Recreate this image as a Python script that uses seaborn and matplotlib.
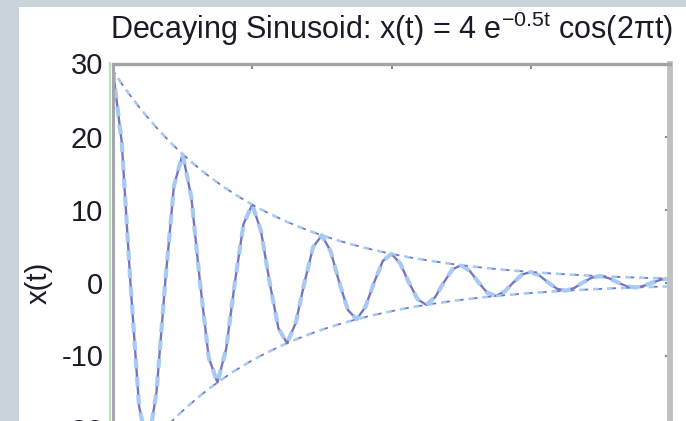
import numpy as np
import pandas as pd
import matplotlib
matplotlib.use("Agg")
import matplotlib.pyplot as plt
from matplotlib.lines import Line2D
from matplotlib.patches import Rectangle
import seaborn as sns

# sample times (s), every 1/8 s from 0 to 8
t = [0.000, 0.125, 0.250, 0.375, 0.500, 0.625, 0.750, 0.875,
     1.000, 1.125, 1.250, 1.375, 1.500, 1.625, 1.750, 1.875,
     2.000, 2.125, 2.250, 2.375, 2.500, 2.625, 2.750, 2.875,
     3.000, 3.125, 3.250, 3.375, 3.500, 3.625, 3.750, 3.875,
     4.000, 4.125, 4.250, 4.375, 4.500, 4.625, 4.750, 4.875,
     5.000, 5.125, 5.250, 5.375, 5.500, 5.625, 5.750, 5.875,
     6.000, 6.125, 6.250, 6.375, 6.500, 6.625, 6.750, 6.875,
     7.000, 7.125, 7.250, 7.375, 7.500, 7.625, 7.750, 7.875,
     8.000]

# signal samples x(t)
x = [29.00, 19.26, 0.00, -17.00, -22.59, -15.00, 0.00, 13.24,
     17.59, 11.68, 0.00, -10.31, -13.70, -9.10, 0.00, 8.03,
     10.67, 7.09, 0.00, -6.25, -8.31, -5.52, 0.00, 4.87,
     6.47, 4.30, 0.00, -3.79, -5.04, -3.35, 0.00, 2.95,
     3.93, 2.61, 0.00, -2.30, -3.06, -2.03, 0.00, 1.79,
     2.38, 1.58, 0.00, -1.40, -1.85, -1.23, 0.00, 1.09,
     1.44, 0.96, 0.00, -0.85, -1.12, -0.75, 0.00, 0.66,
     0.88, 0.58, 0.00, -0.51, -0.68, -0.45, 0.00, 0.40,
     0.53]

# decay envelope (upper); the lower envelope is its mirror image
envelope = [29.00, 27.24, 25.59, 24.04, 22.59, 21.22, 19.93, 18.72,
            17.59, 16.52, 15.52, 14.58, 13.70, 12.87, 12.09, 11.36,
            10.67, 10.02, 9.42, 8.85, 8.31, 7.81, 7.33, 6.89,
            6.47, 6.08, 5.71, 5.37, 5.04, 4.73, 4.45, 4.18,
            3.93, 3.69, 3.46, 3.25, 3.06, 2.87, 2.70, 2.53,
            2.38, 2.24, 2.10, 1.97, 1.85, 1.74, 1.64, 1.54,
            1.44, 1.36, 1.27, 1.20, 1.12, 1.06, 0.99, 0.93,
            0.88, 0.82, 0.77, 0.73, 0.68, 0.64, 0.60, 0.57,
            0.53]

x_ticks = [0, 2, 4, 6, 8]
y_ticks = [-30, -20, -10, 0, 10, 20, 30]

df = pd.DataFrame({"t": t, "x": x,
                   "upper": envelope,
                   "lower": [-v for v in envelope]})

sns.set_theme(style="white")
plt.rcParams["font.family"] = ["Liberation Sans", "DejaVu Sans"]
plt.rcParams["mathtext.fontset"] = "custom"
plt.rcParams["mathtext.rm"] = "Liberation Sans"
plt.rcParams["mathtext.it"] = "Liberation Sans:italic"
plt.rcParams["mathtext.bf"] = "Liberation Sans:bold"
plt.rcParams["axes.unicode_minus"] = False
plt.rcParams["lines.scale_dashes"] = False

W, H = 686, 421
fig = plt.figure(figsize=(W / 100, H / 100), dpi=100)
fig.patch.set_facecolor("#c9d3da")
fig.add_artist(Rectangle((19 / W, 0), 1, 1 - 7 / H, transform=fig.transFigure,
                         facecolor="white", edgecolor="none", zorder=-10))

ax = fig.add_axes([113 / W, 1 - 501.5 / H, (670 - 113) / W, 438 / H])
ax.set_facecolor("white")

light = "#a6caf2"
dark = "#7676c0"

# signal: solid dark line under a wider light dashed line
sns.lineplot(data=df, x="t", y="x", ax=ax, color=dark, linewidth=1.7,
             estimator=None, sort=False)
sns.lineplot(data=df, x="t", y="x", ax=ax, color=light, linewidth=3.0,
             estimator=None, sort=False)
ax.lines[-1].set_linestyle((0, (7, 6)))

# envelopes
for col in ("upper", "lower"):
    sns.lineplot(data=df, x="t", y=col, ax=ax, color=dark, linewidth=1.3,
                 estimator=None, sort=False)
    ax.lines[-1].set_linestyle((0, (3, 7)))
    sns.lineplot(data=df, x="t", y=col, ax=ax, color=light, linewidth=1.9,
                 estimator=None, sort=False)
    ax.lines[-1].set_linestyle((3.5, (4, 6)))

ax.set_xlim(0, 8)
ax.set_ylim(-30, 30)
ax.set_xticks(x_ticks)
ax.set_yticks(y_ticks)
ax.set_xlabel("")
ax.set_ylabel("x(t)", fontsize=21, labelpad=6, color="#1a1a28")
ax.tick_params(direction="in", top=True, right=True, length=3.5, width=1.2,
               color="#707080", labelsize=21, pad=7, labelcolor="#1a1a28",
               labelbottom=False)
ax.grid(False)

ax.spines["top"].set_color("#a4a4a4")
ax.spines["top"].set_linewidth(2.4)
ax.spines["right"].set_color("#c0c0c0")
ax.spines["right"].set_linewidth(4.2)
ax.spines["left"].set_color("#a6a6ae")
ax.spines["left"].set_linewidth(2.2)
ax.spines["bottom"].set_color("#a6a6ae")

fig.add_artist(Line2D([110 / W, 110 / W], [0, 1 - 63 / H], transform=fig.transFigure,
                      color="#bcdcbc", linewidth=1.6))

ax.set_title("Decaying Sinusoid: x(t) = 4 e$^{\\mathrm{-0.5t}}$ cos(2πt)",
             fontsize=22, pad=18, color="#1a1a28")

fig.savefig("out.png", dpi=100, facecolor=fig.get_facecolor())
